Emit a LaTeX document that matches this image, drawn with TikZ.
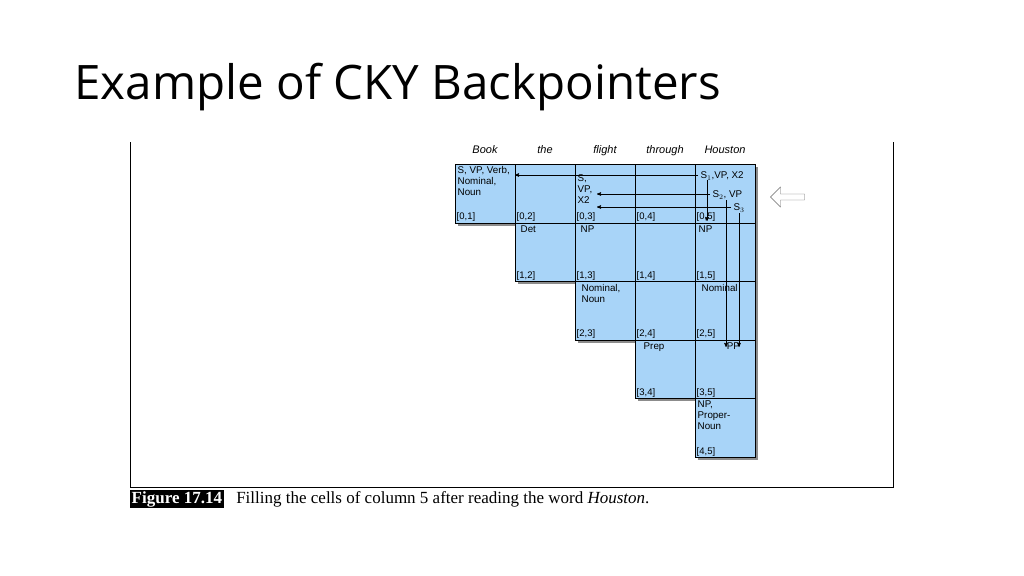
\documentclass[tikz,border=0pt]{standalone}
\usepackage{fontspec}
\setmainfont{Open Sans}
\newfontfamily\cellfont{Liberation Sans}
\newfontfamily\capfont{Liberation Serif}
\usetikzlibrary{arrows, shapes.arrows, positioning}
\definecolor{cellblue}{HTML}{A8D4F8}

\begin{document}
\begin{tikzpicture}[x=1pt,y=-1pt,>=stealth',
  cell/.style={draw=black,thick,fill=cellblue,minimum width=60pt,minimum height=58.6pt,
    inner sep=0pt,anchor=north west},
  entry/.style={font=\cellfont\fontsize{9.8}{11}\selectfont,align=left,anchor=north west,inner sep=2.5pt},
  span/.style={font=\cellfont\fontsize{9.5}{10}\selectfont,anchor=south west,inner sep=1.5pt},
  word/.style={font=\cellfont\itshape\fontsize{11}{12}\selectfont,anchor=base}]
  \useasboundingbox (0,0) rectangle (1024,575);

  \node[anchor=west,font=\fontsize{47.5}{50}\selectfont] (title) at (71,87) {Example of CKY Backpointers};

  % frame
  \coordinate (fa) at (130,142);
  \coordinate (fb) at (130,487);
  \coordinate (fc) at (893,487);
  \coordinate (fd) at (893,142);
  \draw[thick] (fa) -- (fb) -- (fc) -- (fd);

  % words
  \foreach \w [count=\j] in {Book,the,flight,through,Houston}
    \node[word] (w\j) at (455+60*\j-30,153) {\w};

  % cells
  \foreach \i in {0,...,4}
    \foreach \j in {1,...,5} {
      \ifnum\j>\i
        \fill[black!45] (458+60*\j-60,167+58.6*\i) rectangle ++(60,58.6);
      \fi
    }
  \foreach \i in {0,...,4}
    \foreach \j in {1,...,5} {
      \ifnum\j>\i
        \node[cell] (c\i\j) at (455+60*\j-60,164+58.6*\i) {};
        \node[span] (s\i\j) at (c\i\j.south west) {[\i,\j]};
      \fi
    }

  % entries
  \node[entry] (e01) at (c01.north west) {S, VP, Verb,\\Nominal,\\Noun};
  \node[entry] (e03) at ([yshift=-8pt]c03.north west) {S,\\VP,\\X2};
  \node[entry] (e12) at ([xshift=3pt]c12.north west) {Det};
  \node[entry] (e13) at ([xshift=3pt]c13.north west) {NP};
  \node[entry] (e15) at ([xshift=1pt]c15.north west) {NP};
  \node[entry] (e23) at ([xshift=4pt]c23.north west) {Nominal,\\Noun};
  \node[entry] (e25) at ([xshift=4pt]c25.north west) {Nominal};
  \node[entry] (e34) at ([xshift=6pt]c34.north west) {Prep};
  \node[entry,anchor=north] (e35) at ([xshift=8pt]c35.north) {PP};
  \node[entry] (e45) at (c45.north west) {NP,\\Proper-\\Noun};

  \node[entry,anchor=west] (sa) at (698,176) {S$_1$,VP, X2};
  \node[entry,anchor=west] (sb) at (710,195) {S$_2$, VP};
  \node[entry,anchor=west] (sc) at (731,208) {S$_3$};

  % backpointers
  \coordinate (pa) at (515,175);
  \coordinate (pb) at (597,194);
  \coordinate (pc) at (597,207);
  \draw[->,semithick] (sa.west |- pa) -- (pa);
  \draw[->,semithick] (sb.west |- pb) -- (pb);
  \draw[->,semithick] (sc.west |- pc) -- (pc);
  \draw[->,semithick] (707,180) -- (707,221);
  \draw[->,semithick] (726,200) -- (726,347);
  \draw[->,semithick] (739,213) -- (739,347);

  % hollow arrow
  \node[single arrow,draw=black!60,shape border rotate=180,minimum height=34pt,
    minimum width=20pt,single arrow head extend=4pt,inner sep=1.5pt] (ptr) at (789,197) {};

  % caption
  \node[fill=black,text=white,font=\capfont\bfseries\fontsize{17}{18}\selectfont,anchor=west,
    inner sep=1.5pt] (fig) at (130,499) {Figure 17.14};
  \node[font=\capfont\fontsize{17}{18}\selectfont,anchor=west] (cap) at ([xshift=9pt]fig.east)
    {Filling the cells of column 5 after reading the word \textit{Houston}.};
\end{tikzpicture}
\end{document}
